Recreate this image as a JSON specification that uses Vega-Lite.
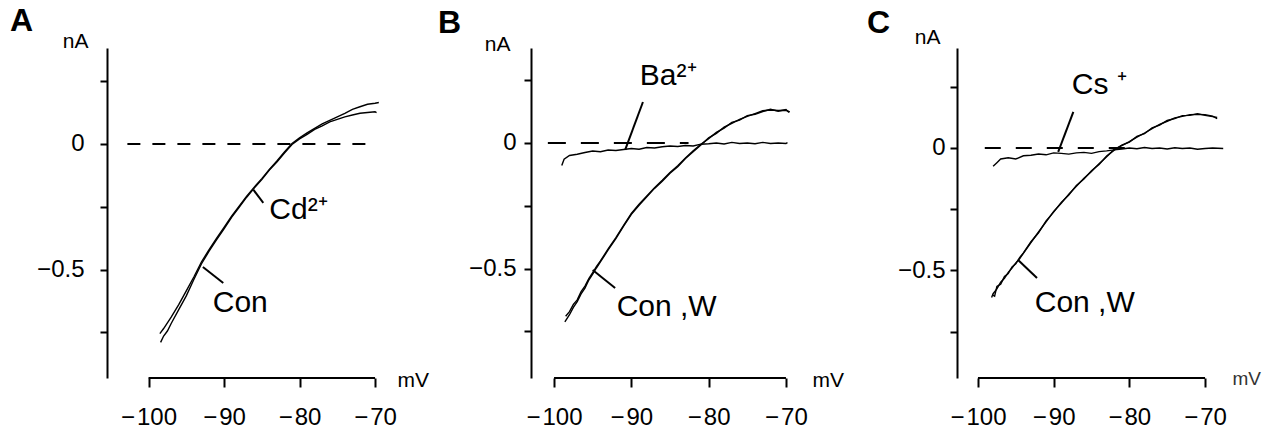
{
  "$schema": "https://vega.github.io/schema/vega-lite/v6.json",
  "background": "white",
  "padding": {"left": 10, "top": 5, "right": 5, "bottom": 5},
  "spacing": 145,
  "bounds": "flush",
  "config": {
    "font": "Liberation Sans",
    "view": {"stroke": null},
    "axis": {"grid": false, "domainColor": "black", "domainWidth": 2, "tickColor": "black", "tickWidth": 2, "labelColor": "black", "titleColor": "black", "labelFontSize": 24, "titleFontSize": 21, "titleFontWeight": "normal", "labelOverlap": false, "labelFlush": false},
    "title": {"anchor": "start", "frame": "group", "fontSize": 32, "fontWeight": "bold", "color": "black", "baseline": "alphabetic"}
  },
  "datasets": {
    "curves": [
      {"p":"A","t":"Con","v":-98.4,"i":-0.79},{"p":"A","t":"Con","v":-98,"i":-0.765},{"p":"A","t":"Con","v":-97.5,"i":-0.745},{"p":"A","t":"Con","v":-97,"i":-0.715},{"p":"A","t":"Con","v":-96,"i":-0.66},{"p":"A","t":"Con","v":-95,"i":-0.605},{"p":"A","t":"Con","v":-94,"i":-0.54},{"p":"A","t":"Con","v":-93,"i":-0.478},{"p":"A","t":"Con","v":-92,"i":-0.428},{"p":"A","t":"Con","v":-91,"i":-0.382},{"p":"A","t":"Con","v":-90,"i":-0.338},{"p":"A","t":"Con","v":-89,"i":-0.292},{"p":"A","t":"Con","v":-88,"i":-0.252},{"p":"A","t":"Con","v":-87,"i":-0.212},{"p":"A","t":"Con","v":-86,"i":-0.176},{"p":"A","t":"Con","v":-85,"i":-0.142},{"p":"A","t":"Con","v":-84,"i":-0.104},{"p":"A","t":"Con","v":-83,"i":-0.072},{"p":"A","t":"Con","v":-82,"i":-0.036},{"p":"A","t":"Con","v":-81,"i":-0.002},{"p":"A","t":"Con","v":-80,"i":0.02},{"p":"A","t":"Con","v":-79,"i":0.038},{"p":"A","t":"Con","v":-78,"i":0.058},{"p":"A","t":"Con","v":-77,"i":0.072},{"p":"A","t":"Con","v":-76,"i":0.088},{"p":"A","t":"Con","v":-75,"i":0.098},{"p":"A","t":"Con","v":-74,"i":0.108},{"p":"A","t":"Con","v":-73,"i":0.115},{"p":"A","t":"Con","v":-72,"i":0.122},{"p":"A","t":"Con","v":-71,"i":0.125},{"p":"A","t":"Con","v":-70,"i":0.128},{"p":"A","t":"Con","v":-69.8,"i":0.125},
      {"p":"A","t":"Cd","v":-98.5,"i":-0.755},{"p":"A","t":"Cd","v":-98,"i":-0.735},{"p":"A","t":"Cd","v":-97,"i":-0.69},{"p":"A","t":"Cd","v":-96,"i":-0.64},{"p":"A","t":"Cd","v":-95,"i":-0.585},{"p":"A","t":"Cd","v":-94,"i":-0.53},{"p":"A","t":"Cd","v":-93,"i":-0.47},{"p":"A","t":"Cd","v":-92,"i":-0.422},{"p":"A","t":"Cd","v":-91,"i":-0.376},{"p":"A","t":"Cd","v":-90,"i":-0.332},{"p":"A","t":"Cd","v":-89,"i":-0.288},{"p":"A","t":"Cd","v":-88,"i":-0.248},{"p":"A","t":"Cd","v":-87,"i":-0.208},{"p":"A","t":"Cd","v":-86,"i":-0.172},{"p":"A","t":"Cd","v":-85,"i":-0.138},{"p":"A","t":"Cd","v":-84,"i":-0.102},{"p":"A","t":"Cd","v":-83,"i":-0.068},{"p":"A","t":"Cd","v":-82,"i":-0.032},{"p":"A","t":"Cd","v":-81,"i":0.002},{"p":"A","t":"Cd","v":-80,"i":0.024},{"p":"A","t":"Cd","v":-79,"i":0.044},{"p":"A","t":"Cd","v":-78,"i":0.062},{"p":"A","t":"Cd","v":-77,"i":0.08},{"p":"A","t":"Cd","v":-76,"i":0.094},{"p":"A","t":"Cd","v":-75,"i":0.108},{"p":"A","t":"Cd","v":-74,"i":0.122},{"p":"A","t":"Cd","v":-73,"i":0.138},{"p":"A","t":"Cd","v":-72,"i":0.148},{"p":"A","t":"Cd","v":-71,"i":0.158},{"p":"A","t":"Cd","v":-70,"i":0.162},{"p":"A","t":"Cd","v":-69.5,"i":0.165},
      {"p":"B","t":"Con","v":-98.6,"i":-0.713},{"p":"B","t":"Con","v":-98,"i":-0.684},{"p":"B","t":"Con","v":-97.5,"i":-0.655},{"p":"B","t":"Con","v":-97,"i":-0.632},{"p":"B","t":"Con","v":-96.5,"i":-0.601},{"p":"B","t":"Con","v":-96,"i":-0.578},{"p":"B","t":"Con","v":-95.5,"i":-0.546},{"p":"B","t":"Con","v":-95,"i":-0.522},{"p":"B","t":"Con","v":-94.5,"i":-0.497},{"p":"B","t":"Con","v":-94,"i":-0.474},{"p":"B","t":"Con","v":-93,"i":-0.426},{"p":"B","t":"Con","v":-92,"i":-0.381},{"p":"B","t":"Con","v":-91,"i":-0.331},{"p":"B","t":"Con","v":-90,"i":-0.284},{"p":"B","t":"Con","v":-89,"i":-0.248},{"p":"B","t":"Con","v":-88,"i":-0.214},{"p":"B","t":"Con","v":-87,"i":-0.181},{"p":"B","t":"Con","v":-86,"i":-0.153},{"p":"B","t":"Con","v":-85,"i":-0.121},{"p":"B","t":"Con","v":-84,"i":-0.095},{"p":"B","t":"Con","v":-83,"i":-0.062},{"p":"B","t":"Con","v":-82,"i":-0.035},{"p":"B","t":"Con","v":-81,"i":-0.008},{"p":"B","t":"Con","v":-80,"i":0.02},{"p":"B","t":"Con","v":-79,"i":0.038},{"p":"B","t":"Con","v":-78,"i":0.063},{"p":"B","t":"Con","v":-77,"i":0.078},{"p":"B","t":"Con","v":-76,"i":0.094},{"p":"B","t":"Con","v":-75,"i":0.106},{"p":"B","t":"Con","v":-74,"i":0.117},{"p":"B","t":"Con","v":-73,"i":0.128},{"p":"B","t":"Con","v":-72,"i":0.131},{"p":"B","t":"Con","v":-71,"i":0.129},{"p":"B","t":"Con","v":-70,"i":0.13},{"p":"B","t":"Con","v":-69.5,"i":0.124},
      {"p":"B","t":"W","v":-98.5,"i":-0.69},{"p":"B","t":"W","v":-98,"i":-0.672},{"p":"B","t":"W","v":-97.5,"i":-0.643},{"p":"B","t":"W","v":-97,"i":-0.625},{"p":"B","t":"W","v":-96.5,"i":-0.592},{"p":"B","t":"W","v":-96,"i":-0.57},{"p":"B","t":"W","v":-95.5,"i":-0.54},{"p":"B","t":"W","v":-95,"i":-0.516},{"p":"B","t":"W","v":-94.5,"i":-0.492},{"p":"B","t":"W","v":-94,"i":-0.47},{"p":"B","t":"W","v":-93,"i":-0.422},{"p":"B","t":"W","v":-92,"i":-0.377},{"p":"B","t":"W","v":-91,"i":-0.328},{"p":"B","t":"W","v":-90,"i":-0.281},{"p":"B","t":"W","v":-89,"i":-0.244},{"p":"B","t":"W","v":-88,"i":-0.211},{"p":"B","t":"W","v":-87,"i":-0.178},{"p":"B","t":"W","v":-86,"i":-0.149},{"p":"B","t":"W","v":-85,"i":-0.118},{"p":"B","t":"W","v":-84,"i":-0.091},{"p":"B","t":"W","v":-83,"i":-0.06},{"p":"B","t":"W","v":-82,"i":-0.031},{"p":"B","t":"W","v":-81,"i":-0.005},{"p":"B","t":"W","v":-80,"i":0.017},{"p":"B","t":"W","v":-79,"i":0.042},{"p":"B","t":"W","v":-78,"i":0.059},{"p":"B","t":"W","v":-77,"i":0.082},{"p":"B","t":"W","v":-76,"i":0.091},{"p":"B","t":"W","v":-75,"i":0.109},{"p":"B","t":"W","v":-74,"i":0.114},{"p":"B","t":"W","v":-73,"i":0.125},{"p":"B","t":"W","v":-72,"i":0.134},{"p":"B","t":"W","v":-71,"i":0.126},{"p":"B","t":"W","v":-70,"i":0.133},{"p":"B","t":"W","v":-69.6,"i":0.121},
      {"p":"B","t":"Ba","v":-99,"i":-0.09},{"p":"B","t":"Ba","v":-98.7,"i":-0.065},{"p":"B","t":"Ba","v":-98,"i":-0.05},{"p":"B","t":"Ba","v":-97,"i":-0.045},{"p":"B","t":"Ba","v":-96,"i":-0.038},{"p":"B","t":"Ba","v":-95,"i":-0.032},{"p":"B","t":"Ba","v":-94,"i":-0.035},{"p":"B","t":"Ba","v":-93,"i":-0.028},{"p":"B","t":"Ba","v":-92,"i":-0.03},{"p":"B","t":"Ba","v":-91,"i":-0.026},{"p":"B","t":"Ba","v":-90,"i":-0.022},{"p":"B","t":"Ba","v":-89,"i":-0.025},{"p":"B","t":"Ba","v":-88,"i":-0.018},{"p":"B","t":"Ba","v":-87,"i":-0.02},{"p":"B","t":"Ba","v":-86,"i":-0.015},{"p":"B","t":"Ba","v":-85,"i":-0.012},{"p":"B","t":"Ba","v":-84,"i":-0.014},{"p":"B","t":"Ba","v":-83,"i":-0.01},{"p":"B","t":"Ba","v":-82,"i":-0.012},{"p":"B","t":"Ba","v":-81,"i":-0.005},{"p":"B","t":"Ba","v":-80,"i":-0.003},{"p":"B","t":"Ba","v":-79,"i":0.0},{"p":"B","t":"Ba","v":-78,"i":-0.004},{"p":"B","t":"Ba","v":-77,"i":0.002},{"p":"B","t":"Ba","v":-76,"i":-0.002},{"p":"B","t":"Ba","v":-75,"i":0.0},{"p":"B","t":"Ba","v":-74,"i":-0.003},{"p":"B","t":"Ba","v":-73,"i":0.002},{"p":"B","t":"Ba","v":-72,"i":-0.002},{"p":"B","t":"Ba","v":-71,"i":0.0},{"p":"B","t":"Ba","v":-70,"i":-0.002},{"p":"B","t":"Ba","v":-69.8,"i":0.001},
      {"p":"C","t":"Con","v":-98.2,"i":-0.61},{"p":"C","t":"Con","v":-98,"i":-0.595},{"p":"C","t":"Con","v":-97.5,"i":-0.575},{"p":"C","t":"Con","v":-97,"i":-0.548},{"p":"C","t":"Con","v":-96.5,"i":-0.532},{"p":"C","t":"Con","v":-96,"i":-0.508},{"p":"C","t":"Con","v":-95.5,"i":-0.49},{"p":"C","t":"Con","v":-95,"i":-0.469},{"p":"C","t":"Con","v":-94.5,"i":-0.452},{"p":"C","t":"Con","v":-94,"i":-0.43},{"p":"C","t":"Con","v":-93,"i":-0.386},{"p":"C","t":"Con","v":-92,"i":-0.343},{"p":"C","t":"Con","v":-91,"i":-0.302},{"p":"C","t":"Con","v":-90,"i":-0.259},{"p":"C","t":"Con","v":-89,"i":-0.226},{"p":"C","t":"Con","v":-88,"i":-0.189},{"p":"C","t":"Con","v":-87,"i":-0.156},{"p":"C","t":"Con","v":-86,"i":-0.124},{"p":"C","t":"Con","v":-85,"i":-0.096},{"p":"C","t":"Con","v":-84,"i":-0.064},{"p":"C","t":"Con","v":-83,"i":-0.036},{"p":"C","t":"Con","v":-82,"i":-0.006},{"p":"C","t":"Con","v":-81,"i":0.01},{"p":"C","t":"Con","v":-80,"i":0.026},{"p":"C","t":"Con","v":-79,"i":0.044},{"p":"C","t":"Con","v":-78,"i":0.061},{"p":"C","t":"Con","v":-77,"i":0.079},{"p":"C","t":"Con","v":-76,"i":0.096},{"p":"C","t":"Con","v":-75,"i":0.109},{"p":"C","t":"Con","v":-74,"i":0.123},{"p":"C","t":"Con","v":-73,"i":0.129},{"p":"C","t":"Con","v":-72,"i":0.136},{"p":"C","t":"Con","v":-71,"i":0.137},{"p":"C","t":"Con","v":-70,"i":0.136},{"p":"C","t":"Con","v":-69,"i":0.13},{"p":"C","t":"Con","v":-68.4,"i":0.12},
      {"p":"C","t":"W","v":-98.1,"i":-0.6},{"p":"C","t":"W","v":-97.8,"i":-0.605},{"p":"C","t":"W","v":-97.5,"i":-0.565},{"p":"C","t":"W","v":-97,"i":-0.556},{"p":"C","t":"W","v":-96.5,"i":-0.525},{"p":"C","t":"W","v":-96,"i":-0.513},{"p":"C","t":"W","v":-95.5,"i":-0.486},{"p":"C","t":"W","v":-95,"i":-0.473},{"p":"C","t":"W","v":-94.5,"i":-0.448},{"p":"C","t":"W","v":-94,"i":-0.428},{"p":"C","t":"W","v":-93,"i":-0.383},{"p":"C","t":"W","v":-92,"i":-0.346},{"p":"C","t":"W","v":-91,"i":-0.298},{"p":"C","t":"W","v":-90,"i":-0.262},{"p":"C","t":"W","v":-89,"i":-0.222},{"p":"C","t":"W","v":-88,"i":-0.192},{"p":"C","t":"W","v":-87,"i":-0.153},{"p":"C","t":"W","v":-86,"i":-0.127},{"p":"C","t":"W","v":-85,"i":-0.093},{"p":"C","t":"W","v":-84,"i":-0.067},{"p":"C","t":"W","v":-83,"i":-0.033},{"p":"C","t":"W","v":-82,"i":-0.009},{"p":"C","t":"W","v":-81,"i":0.012},{"p":"C","t":"W","v":-80,"i":0.024},{"p":"C","t":"W","v":-79,"i":0.047},{"p":"C","t":"W","v":-78,"i":0.058},{"p":"C","t":"W","v":-77,"i":0.082},{"p":"C","t":"W","v":-76,"i":0.093},{"p":"C","t":"W","v":-75,"i":0.112},{"p":"C","t":"W","v":-74,"i":0.12},{"p":"C","t":"W","v":-73,"i":0.132},{"p":"C","t":"W","v":-72,"i":0.133},{"p":"C","t":"W","v":-71,"i":0.14},{"p":"C","t":"W","v":-70,"i":0.133},{"p":"C","t":"W","v":-69,"i":0.128},{"p":"C","t":"W","v":-68.4,"i":0.125},
      {"p":"C","t":"Cs","v":-98,"i":-0.075},{"p":"C","t":"Cs","v":-97.5,"i":-0.06},{"p":"C","t":"Cs","v":-97,"i":-0.045},{"p":"C","t":"Cs","v":-96,"i":-0.04},{"p":"C","t":"Cs","v":-95,"i":-0.045},{"p":"C","t":"Cs","v":-94,"i":-0.032},{"p":"C","t":"Cs","v":-93,"i":-0.03},{"p":"C","t":"Cs","v":-92,"i":-0.025},{"p":"C","t":"Cs","v":-91,"i":-0.028},{"p":"C","t":"Cs","v":-90,"i":-0.02},{"p":"C","t":"Cs","v":-89,"i":-0.022},{"p":"C","t":"Cs","v":-88,"i":-0.025},{"p":"C","t":"Cs","v":-87,"i":-0.02},{"p":"C","t":"Cs","v":-86,"i":-0.018},{"p":"C","t":"Cs","v":-85,"i":-0.022},{"p":"C","t":"Cs","v":-84,"i":-0.015},{"p":"C","t":"Cs","v":-83,"i":-0.012},{"p":"C","t":"Cs","v":-82,"i":-0.008},{"p":"C","t":"Cs","v":-81,"i":-0.004},{"p":"C","t":"Cs","v":-80,"i":0.0},{"p":"C","t":"Cs","v":-79,"i":-0.003},{"p":"C","t":"Cs","v":-78,"i":0.002},{"p":"C","t":"Cs","v":-77,"i":-0.002},{"p":"C","t":"Cs","v":-76,"i":0.0},{"p":"C","t":"Cs","v":-75,"i":-0.004},{"p":"C","t":"Cs","v":-74,"i":0.001},{"p":"C","t":"Cs","v":-73,"i":-0.002},{"p":"C","t":"Cs","v":-72,"i":0.0},{"p":"C","t":"Cs","v":-71,"i":-0.005},{"p":"C","t":"Cs","v":-70,"i":-0.002},{"p":"C","t":"Cs","v":-69,"i":0.0},{"p":"C","t":"Cs","v":-67.6,"i":-0.002}
    ],
    "zeros": [
      {"p":"A","v":-102.8,"v2":-69.7},
      {"p":"B","v":-100.8,"v2":-82.6},
      {"p":"C","v":-99.1,"v2":-80.5}
    ],
    "leaders": [
      {"p":"A","v":-86.1,"i":-0.183,"v2":-84.8,"i2":-0.235},
      {"p":"A","v":-92.8,"i":-0.49,"v2":-90.1,"i2":-0.554},
      {"p":"B","v":-90.8,"i":-0.028,"v2":-88.5,"i2":0.163},
      {"p":"B","v":-95.0,"i":-0.506,"v2":-92.1,"i2":-0.578},
      {"p":"C","v":-89.4,"i":-0.016,"v2":-87.4,"i2":0.147},
      {"p":"C","v":-94.7,"i":-0.457,"v2":-92.2,"i2":-0.531}
    ],
    "labels": [
      {"p":"A","label":"Cd²⁺","v":-84.0,"i":-0.263},
      {"p":"A","label":"Con","v":-91.5,"i":-0.633},
      {"p":"B","label":"Ba²⁺","v":-88.9,"i":0.267},
      {"p":"B","label":"Con ,W","v":-91.9,"i":-0.653},
      {"p":"C","label":"Cs ⁺","v":-87.6,"i":0.257},
      {"p":"C","label":"Con ,W","v":-92.5,"i":-0.633}
    ]
  },
  "hconcat": [
    {
      "width": 279, "height": 330,
      "title": {"text": "A", "dx": -97, "offset": -8},
      "layer": [
        {"data": {"name": "curves"}, "transform": [{"filter": "datum.p === 'A'"}],
         "mark": {"type": "line", "color": "black", "strokeWidth": 1.4},
         "encoding": {
           "x": {"field": "v", "type": "quantitative", "scale": {"domain": [-105.5, -68.55], "nice": false, "zero": false},
                 "axis": {"values": [-100, -90, -80, -70], "labelExpr": "replace(datum.label, '\u2212', '\u2212\u200a')", "domain": false, "title": "mV", "titleX": 290, "titleY": 2, "titleAlign": "left", "titleBaseline": "middle", "tickSize": 9, "labelPadding": 18}},
           "y": {"field": "i", "type": "quantitative", "scale": {"domain": [-0.932, 0.382], "nice": false, "zero": false},
                 "axis": {"values": [-0.75, -0.5, -0.25, 0, 0.25], "labelExpr": "datum.value === 0 ? '0' : (datum.value === -0.5 ? '\u22120.5' : '')", "title": "nA", "titleAngle": 0, "titleX": -19, "titleY": -1, "titleAlign": "right", "titleBaseline": "alphabetic", "tickSize": 7, "labelPadding": 16}},
           "detail": {"field": "t"}
         }},
        {"data": {"name": "zeros"}, "transform": [{"filter": "datum.p === 'A'"}],
         "mark": {"type": "rule", "color": "black", "strokeWidth": 2, "strokeDash": [13, 12]},
         "encoding": {"x": {"field": "v", "type": "quantitative"}, "x2": {"field": "v2"}, "y": {"datum": 0}}},
        {"data": {"values": [{}]},
         "mark": {"type": "rule", "color": "black", "strokeWidth": 2},
         "encoding": {"x": {"datum": -100}, "x2": {"datum": -70}, "y": {"datum": -0.932}}},
        {"data": {"name": "leaders"}, "transform": [{"filter": "datum.p === 'A'"}],
         "mark": {"type": "rule", "color": "black", "strokeWidth": 2},
         "encoding": {"x": {"field": "v", "type": "quantitative"}, "y": {"field": "i", "type": "quantitative"}, "x2": {"field": "v2"}, "y2": {"field": "i2"}}},
        {"data": {"name": "labels"}, "transform": [{"filter": "datum.p === 'A'"}],
         "mark": {"type": "text", "align": "left", "baseline": "middle", "fontSize": 30, "color": "black"},
         "encoding": {"x": {"field": "v", "type": "quantitative"}, "y": {"field": "i", "type": "quantitative"}, "text": {"field": "label"}}}
      ]
    },
    {
      "width": 281, "height": 330,
      "title": {"text": "B", "dx": -93, "offset": -7},
      "layer": [
        {"data": {"name": "curves"}, "transform": [{"filter": "datum.p === 'B'"}],
         "mark": {"type": "line", "color": "black", "strokeWidth": 1.4},
         "encoding": {
           "x": {"field": "v", "type": "quantitative", "scale": {"domain": [-102.98, -66.63], "nice": false, "zero": false},
                 "axis": {"values": [-100, -90, -80, -70], "labelExpr": "replace(datum.label, '\u2212', '\u2212\u200a')", "domain": false, "title": "mV", "titleX": 281, "titleY": 2, "titleAlign": "left", "titleBaseline": "middle", "tickSize": 9, "labelPadding": 18}},
           "y": {"field": "i", "type": "quantitative", "scale": {"domain": [-0.936, 0.378], "nice": false, "zero": false},
                 "axis": {"values": [-0.75, -0.5, -0.25, 0, 0.25], "labelExpr": "datum.value === 0 ? '0\u2002' : (datum.value === -0.5 ? '\u22120.5' : '')", "title": "nA", "titleAngle": 0, "titleX": -21, "titleY": 2, "titleAlign": "right", "titleBaseline": "alphabetic", "tickSize": 7, "labelPadding": 8}},
           "detail": {"field": "t"}
         }},
        {"data": {"name": "zeros"}, "transform": [{"filter": "datum.p === 'B'"}],
         "mark": {"type": "rule", "color": "black", "strokeWidth": 2, "strokeDash": [18, 15]},
         "encoding": {"x": {"field": "v", "type": "quantitative"}, "x2": {"field": "v2"}, "y": {"datum": 0}}},
        {"data": {"values": [{}]},
         "mark": {"type": "rule", "color": "black", "strokeWidth": 2},
         "encoding": {"x": {"datum": -100}, "x2": {"datum": -70}, "y": {"datum": -0.936}}},
        {"data": {"name": "leaders"}, "transform": [{"filter": "datum.p === 'B'"}],
         "mark": {"type": "rule", "color": "black", "strokeWidth": 2},
         "encoding": {"x": {"field": "v", "type": "quantitative"}, "y": {"field": "i", "type": "quantitative"}, "x2": {"field": "v2"}, "y2": {"field": "i2"}}},
        {"data": {"name": "labels"}, "transform": [{"filter": "datum.p === 'B'"}],
         "mark": {"type": "text", "align": "left", "baseline": "middle", "fontSize": 30, "color": "black"},
         "encoding": {"x": {"field": "v", "type": "quantitative"}, "y": {"field": "i", "type": "quantitative"}, "text": {"field": "label"}}}
      ]
    },
    {
      "width": 275, "height": 330,
      "title": {"text": "C", "dx": -90, "offset": -14},
      "layer": [
        {"data": {"name": "curves"}, "transform": [{"filter": "datum.p === 'C'"}],
         "mark": {"type": "line", "color": "black", "strokeWidth": 1.4},
         "encoding": {
           "x": {"field": "v", "type": "quantitative", "scale": {"domain": [-102.77, -66.44], "nice": false, "zero": false},
                 "axis": {"values": [-100, -90, -80, -70], "labelExpr": "replace(datum.label, '\u2212', '\u2212\u200a')", "domain": false, "title": "mV", "titleX": 275, "titleY": 0, "titleAlign": "left", "titleBaseline": "middle", "titleFontSize": 19, "titleColor": "#333333", "tickSize": 9, "labelPadding": 18}},
           "y": {"field": "i", "type": "quantitative", "scale": {"domain": [-0.939, 0.408], "nice": false, "zero": false},
                 "axis": {"values": [-0.75, -0.5, -0.25, 0, 0.25], "labelExpr": "datum.value === 0 ? '0\u2002' : (datum.value === -0.5 ? '\u22120.5' : '')", "title": "nA", "titleAngle": 0, "titleX": -17, "titleY": -5, "titleAlign": "right", "titleBaseline": "alphabetic", "tickSize": 7, "labelPadding": 5}},
           "detail": {"field": "t"}
         }},
        {"data": {"name": "zeros"}, "transform": [{"filter": "datum.p === 'C'"}],
         "mark": {"type": "rule", "color": "black", "strokeWidth": 2, "strokeDash": [16, 15]},
         "encoding": {"x": {"field": "v", "type": "quantitative"}, "x2": {"field": "v2"}, "y": {"datum": 0}}},
        {"data": {"values": [{}]},
         "mark": {"type": "rule", "color": "black", "strokeWidth": 2},
         "encoding": {"x": {"datum": -100}, "x2": {"datum": -70}, "y": {"datum": -0.939}}},
        {"data": {"name": "leaders"}, "transform": [{"filter": "datum.p === 'C'"}],
         "mark": {"type": "rule", "color": "black", "strokeWidth": 2},
         "encoding": {"x": {"field": "v", "type": "quantitative"}, "y": {"field": "i", "type": "quantitative"}, "x2": {"field": "v2"}, "y2": {"field": "i2"}}},
        {"data": {"name": "labels"}, "transform": [{"filter": "datum.p === 'C'"}],
         "mark": {"type": "text", "align": "left", "baseline": "middle", "fontSize": 30, "color": "black"},
         "encoding": {"x": {"field": "v", "type": "quantitative"}, "y": {"field": "i", "type": "quantitative"}, "text": {"field": "label"}}}
      ]
    }
  ]
}
